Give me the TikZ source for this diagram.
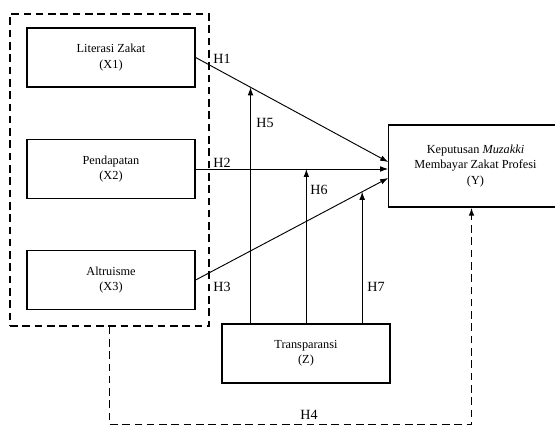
\documentclass[tikz,border=0pt]{standalone}
\usepackage{fontspec}
\setmainfont{Liberation Serif}
\usetikzlibrary{arrows.meta,positioning,calc}
\newcommand{\vfont}{\fontsize{10.5}{13}\selectfont}
\newcommand{\hfont}{\fontsize{12}{14}\selectfont}
\tikzset{
  varbox/.style={draw, line width=1.1pt, minimum width=5.04cm, minimum height=1.77cm, align=center, font=\vfont},
  grpbox/.style={draw, line width=1.1pt, dash pattern=on 6.5pt off 4pt, minimum width=5.97cm, minimum height=9.36cm},
  pathln/.style={-{Latex[length=2.4mm,width=1.7mm]}, line width=0.8pt},
  h4ln/.style={-{Latex[length=2.4mm,width=1.7mm]}, line width=1.2pt, dash pattern=on 6.5pt off 4pt},
  hlabel/.style={font=\hfont, inner sep=1pt},
}

\begin{document}
\begin{tikzpicture}[x=0.03cm, y=-0.03cm]
    \useasboundingbox (0,0) rectangle (555,427);
    % Independent variables
    \node[grpbox] (grp) at (109.5,170) {};
    \node[varbox] (x1) at (111,57.5) {Literasi Zakat\\(X1)};
    \node[varbox] (x2) at (111,169) {Pendapatan\\(X2)};
    \node[varbox] (x3) at (111,280) {Altruisme\\(X3)};
    % Dependent and moderating variables
    \node[varbox, minimum width=5.2cm, minimum height=2.46cm] (yv) at (475.5,166)
      {Keputusan \textit{Muzakki}\\Membayar Zakat Profesi\\(Y)};
    \node[varbox] (zv) at (306,353.5) {Transparansi\\(Z)};
    % Direct paths
    \coordinate (e1) at ($(yv.west)+(0,-4)$);
    \coordinate (e3) at ($(yv.west)+(0,12)$);
    \draw[pathln] (x1.east) -- (e1);
    \draw[pathln] (x2.east) -- (x2.east -| yv.west);
    \draw[pathln] (x3.east) -- (e3);
    % Moderation
    \coordinate (m5) at ($(x1.east)!0.285!(e1)$);
    \coordinate (m6) at ($(x2.east)!0.575!(x2.east -| yv.west)$);
    \coordinate (m7) at ($(x3.east)!0.865!(e3)$);
    \draw[pathln] (zv.north -| m5) -- (m5);
    \draw[pathln] (zv.north -| m6) -- (m6);
    \draw[pathln] (zv.north -| m7) -- (m7);
    % Simultaneous path
    \coordinate (h4end) at ($(yv.south)+(-4,0)$);
    \draw[h4ln] (grp.south) -- ++(0,98) -| (h4end);
    % Labels
    \node[hlabel] (h1) at (222,59) {H1};
    \node[hlabel] (h2) at (222,163) {H2};
    \node[hlabel] (h3) at (222,287) {H3};
    \node[hlabel] (h5) at (265,123) {H5};
    \node[hlabel] (h6) at (319,190) {H6};
    \node[hlabel] (h7) at (376,287) {H7};
    \node[hlabel] (h4) at (309,415) {H4};
\end{tikzpicture}
\end{document}
